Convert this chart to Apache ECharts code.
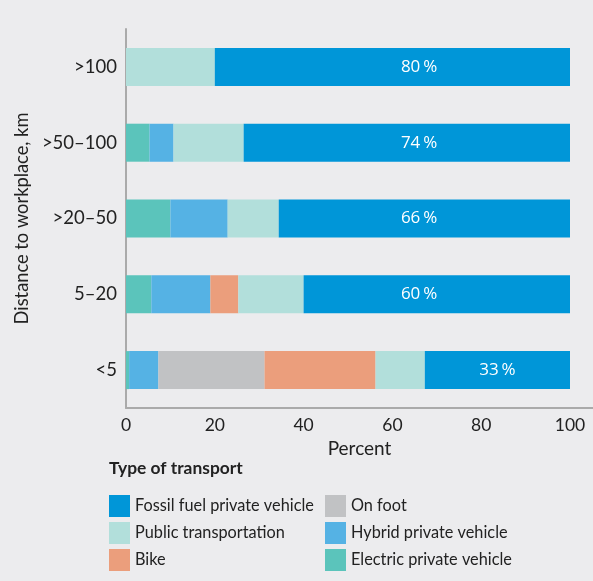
<!DOCTYPE html>
<html><head><meta charset="utf-8">
<script src="https://cdn.jsdelivr.net/npm/echarts@6/dist/echarts.min.js"></script>
<style>html,body{margin:0;padding:0;background:#ececee;}#c{width:593px;height:581px;}</style>
</head><body><div id="c"></div>
<script>
const categories = ['<5', '5–20', '>20–50', '>50–100', '>100'];
const electric = [0.7, 5.7, 10.0, 5.3, 0];
const hybrid   = [6.6, 13.3, 12.9, 5.4, 0];
const onFoot   = [23.9, 0, 0, 0, 0];
const bike     = [25.0, 6.3, 0, 0, 0];
const publicT  = [11.1, 14.7, 11.5, 15.8, 20.0];
const fossil   = [32.7, 60.0, 65.6, 73.5, 80.0];
const xTicks = [0, 20, 40, 60, 80, 100];

const FONT = 'Lato';
const colors = {
  electric: '#5bc4bb', hybrid: '#55b2e4', onFoot: '#c1c2c4',
  bike: '#eb9e7c', publicT: '#b2dfdb', fossil: '#0096d8'
};
const gridLeft = 126, gridRightPx = 570, chartW = 593;
const pxPerUnit = (gridRightPx - gridLeft) / 100;
const xMax = 100 * (chartW - gridLeft) / (gridRightPx - gridLeft);

function mk(name, data, color, withLabel) {
  const s = {
    name, type: 'bar', stack: 'all', barWidth: 38,
    itemStyle: { color }, emphasis: { disabled: true },
    data: data.map((v, i) => {
      const d = { value: v };
      if (withLabel) {
        const center = 100 - v / 2;
        const target = v >= 50 ? 66 : center;
        d.label = { offset: [(target - center) * pxPerUnit, 0] };
      }
      return d;
    })
  };
  if (withLabel) {
    s.label = { show: true, position: 'inside', color: '#fff', fontFamily: 'Open Sans',
      fontSize: 17, formatter: p => Math.round(p.value) + '\u2009%' };
  }
  return s;
}

const chart = echarts.init(document.getElementById('c'), null, { renderer: 'canvas' });
chart.setOption({
  backgroundColor: '#ececee',
  animation: false,
  textStyle: { fontFamily: FONT },
  title: { text: 'Type of transport', left: 109, top: 460, padding: 0,
    textStyle: { fontFamily: FONT, fontSize: 17.4, fontWeight: 'bold', color: '#222' } },
  grid: { left: gridLeft, right: 0, top: 29, bottom: 581 - 408 },
  xAxis: {
    type: 'value', min: 0, max: xMax, interval: 20,
    name: 'Percent', nameLocation: 'middle', nameGap: 25,
    nameTextStyle: { fontFamily: FONT, fontSize: 19, color: '#222' },
    axisLine: { show: true, lineStyle: { color: '#aaaaaa', width: 2 } },
    axisTick: { show: false }, splitLine: { show: false },
    axisLabel: { fontFamily: FONT, fontSize: 17.5, color: '#222', margin: 8,
      showMaxLabel: false,
      formatter: v => xTicks.indexOf(Math.round(v)) >= 0 && Math.abs(v - Math.round(v)) < 1e-6 ? String(Math.round(v)) : '' }
  },
  yAxis: {
    type: 'category', data: categories,
    name: 'Distance to workplace, km', nameLocation: 'middle', nameGap: 90, nameRotate: 90,
    nameTextStyle: { fontFamily: FONT, fontSize: 18.3, color: '#222' },
    axisLine: { show: true, lineStyle: { color: '#aaaaaa', width: 2 } },
    axisTick: { show: false },
    axisLabel: { fontFamily: FONT, fontSize: 18.5, color: '#222', margin: 9 }
  },
  legend: [
    { data: ['Fossil fuel private vehicle', 'Public transportation', 'Bike'],
      orient: 'vertical', left: 109, top: 495, padding: 0, itemWidth: 21, itemHeight: 22, itemGap: 5,
      icon: 'rect', textStyle: { fontFamily: FONT, fontSize: 16.3, color: '#222' }, selectedMode: false },
    { data: ['On foot', 'Hybrid private vehicle', 'Electric private vehicle'],
      orient: 'vertical', left: 325, top: 495, padding: 0, itemWidth: 21, itemHeight: 22, itemGap: 5,
      icon: 'rect', textStyle: { fontFamily: FONT, fontSize: 16.3, color: '#222' }, selectedMode: false }
  ],
  series: [
    mk('Electric private vehicle', electric, colors.electric),
    mk('Hybrid private vehicle', hybrid, colors.hybrid),
    mk('On foot', onFoot, colors.onFoot),
    mk('Bike', bike, colors.bike),
    mk('Public transportation', publicT, colors.publicT),
    mk('Fossil fuel private vehicle', fossil, colors.fossil, true)
  ]
});
</script></body></html>
